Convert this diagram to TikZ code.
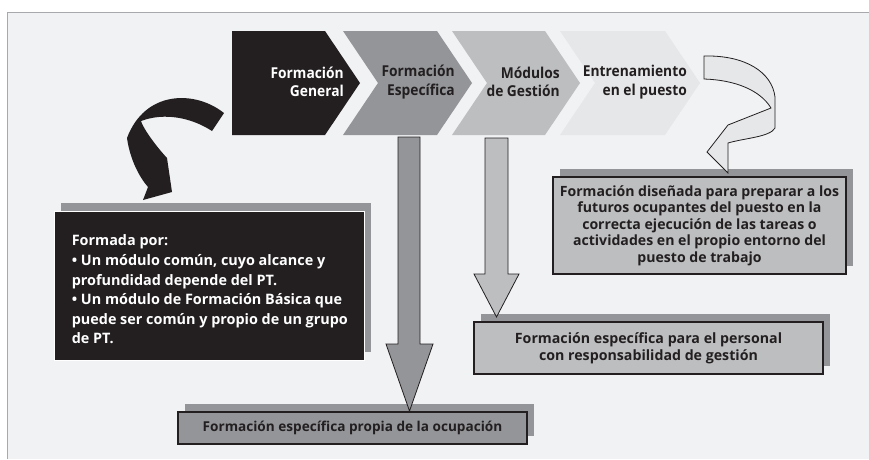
\documentclass[tikz,border=0pt]{standalone}
\usepackage{fontspec}
\setmainfont{Open Sans}
\newfontfamily\estrecha[FakeStretch=0.92]{Open Sans}
\usetikzlibrary{positioning,shadows}
\definecolor{tinta}{HTML}{231F20}
\definecolor{grisA}{HTML}{939598}
\definecolor{grisB}{HTML}{BCBEC0}
\definecolor{grisC}{HTML}{E6E7E8}
\definecolor{fondo}{HTML}{F1F2F4}
\definecolor{borde}{HTML}{A7A9AC}
\tikzset{
  paso/.style={font=\estrecha\bfseries\fontsize{15}{18.5}\selectfont, align=right, anchor=east, inner sep=0pt, text=tinta},
  caja/.style={draw=tinta, line width=1.1pt, font=\bfseries\fontsize{14.1}{16.6}\selectfont, align=center, inner sep=0pt, text=tinta,
    drop shadow={shadow xshift=7pt, shadow yshift=8pt, fill=grisA, opacity=1}},
  flecha/.style={draw=tinta, line width=0.8pt, line join=miter}
}
\begin{document}
\begin{tikzpicture}[x=1pt,y=-1pt]
\useasboundingbox (0,0) rectangle (869,459);
\fill[fondo] (7,12) rectangle (869,459);
\draw[borde, line width=1pt] (7,459) -- (7,12) -- (869,12);

\fill[tinta] (232,31) -- (325,31) -- (360,83) -- (325,135) -- (232,135) -- cycle;
\foreach \xl/\xr/\c in {343/437/grisA, 452/545/grisB, 560/665/grisC}
  \fill[\c] (\xl,31) -- (\xr,31) -- (\xr+35,83) -- (\xr,135) -- (\xl,135) -- (\xl+35,83) -- cycle;
\node[paso,text=white] (general) at (344,82) {Formación\\General};
\node[paso] (especifica) at (455,82) {Formación\\Específica};
\node[paso] (gestion) at (560,82) {Módulos\\de Gestión};
\node[paso] (entrenamiento) at (687,82) {Entrenamiento\\en el puesto};

\node[caja, fill=tinta, draw=white, line width=0.8pt, minimum width=310pt, minimum height=149pt] (formada) at (209,285.5) {};
\node[anchor=west, inner sep=0pt, align=left, text=white, font=\bfseries\fontsize{14.4}{19.6}\selectfont] (formadatexto)
  at ([xshift=18pt,yshift=-4pt]formada.west)
  {Formada por:\\• Un módulo común, cuyo alcance y\\profundidad depende del PT.\\• Un módulo de Formación Básica que\\puede ser común y propio de un grupo\\de PT.};
\node[caja, fill=grisB, minimum width=293pt, minimum height=97pt] (puesto) at (699.5,225.5)
  {Formación diseñada para preparar a los\\futuros ocupantes del puesto en la\\correcta ejecución de las tareas o\\actividades en el propio entorno del\\puesto de trabajo};
\node[caja, fill=grisB, minimum width=349pt, minimum height=52pt, font=\bfseries\fontsize{14.2}{17}\selectfont] (personal) at (648.5,348)
  {Formación específica para el personal\\con responsabilidad de gestión};
\node[caja, fill=grisA, minimum width=349pt, minimum height=32pt, font=\bfseries\fontsize{13.6}{16}\selectfont] (ocupacion) at (352.5,428)
  {Formación específica propia de la ocupación};

\draw[flecha, fill=grisA] (398,137) -- (420,137) -- (420,344) -- (433,344) -- (409.5,411) -- (386,344) -- (398,344) -- cycle;
\draw[flecha, fill=grisB] (485,138) -- (508,138) -- (508,274) -- (519,274) -- (496.5,317) -- (474,274) -- (485,274) -- cycle;

\fill[tinta] (224,113) .. controls (195,90) and (145,90) .. (127,138)
  .. controls (130,160) and (140,178) .. (148,187) -- (143,200) -- (172,192) -- (167,158)
  .. controls (155,145) and (143,128) .. (141,121) .. controls (165,112) and (192,118) .. (212,131) -- cycle;
\draw[flecha, fill=grisC] (704,56) .. controls (745,55) and (772,72) .. (775,97) -- (775,128)
  .. controls (770,137) and (745,138) .. (728,143) -- (728,173) -- (707,152) -- (728,125)
  -- (771,108) .. controls (760,90) and (735,80) .. (704,79) -- cycle;
\end{tikzpicture}
\end{document}
